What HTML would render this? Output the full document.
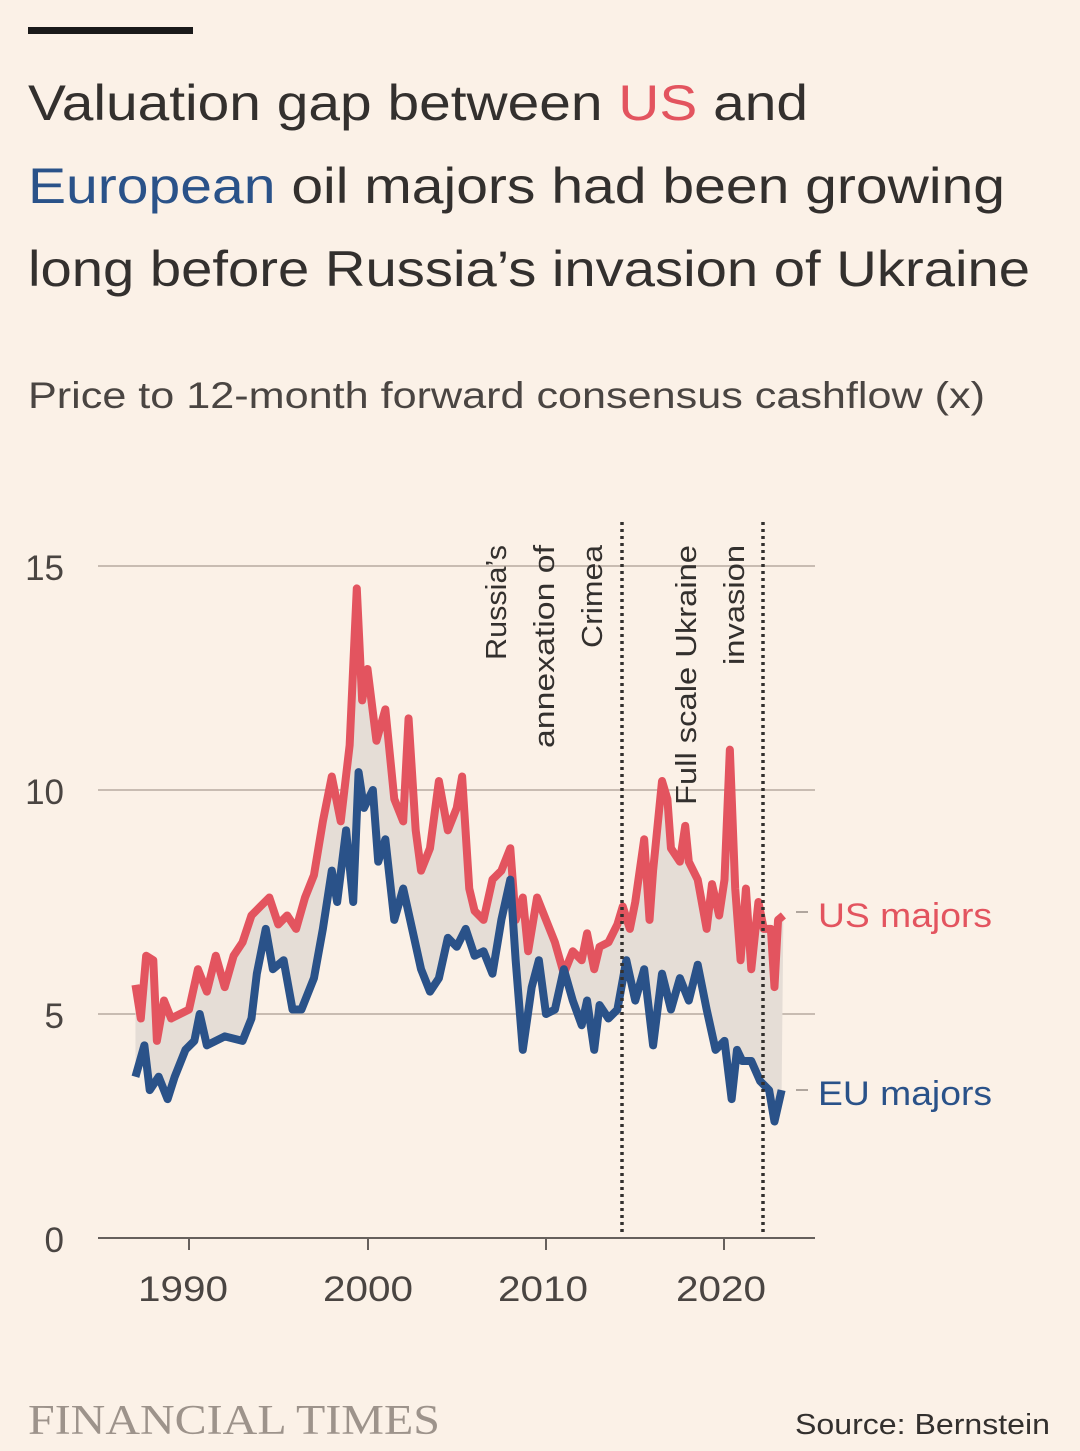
<!DOCTYPE html>
<html><head><meta charset="utf-8"><style>
html,body{margin:0;padding:0;background:#fbf1e7;}
body{width:1080px;height:1451px;position:relative;overflow:hidden;font-family:"Liberation Sans",sans-serif;color:#33302e;}
</style></head><body>
<svg width="1080" height="1451" viewBox="0 0 1080 1451" xmlns="http://www.w3.org/2000/svg" style="position:absolute;left:0;top:0">
<rect x="28" y="27" width="165" height="7" fill="#1a1a1a"/>
<g font-family="Liberation Sans, sans-serif" font-size="50" fill="#33302e" lengthAdjust="spacingAndGlyphs">
<text x="28" y="120" textLength="780" lengthAdjust="spacingAndGlyphs">Valuation gap between <tspan fill="#e3545f">US</tspan> and</text>
<text x="28" y="203" textLength="977" lengthAdjust="spacingAndGlyphs"><tspan fill="#2a5289">European</tspan> oil majors had been growing</text>
<text x="28" y="286" textLength="1002" lengthAdjust="spacingAndGlyphs">long before Russia’s invasion of Ukraine</text>
</g>
<text x="28" y="408" font-size="37" fill="#4a4542" textLength="957" lengthAdjust="spacingAndGlyphs">Price to 12-month forward consensus cashflow (x)</text>
<g stroke="#c8bcb2" stroke-width="2">
<line x1="98" x2="815" y1="566" y2="566"/>
<line x1="98" x2="815" y1="790" y2="790"/>
<line x1="98" x2="815" y1="1014" y2="1014"/>
</g>
<g font-size="35" fill="#4a4542" text-anchor="end">
<text x="64" y="580">15</text><text x="64" y="804">10</text><text x="64" y="1028">5</text><text x="64" y="1252">0</text>
</g>
<g transform="translate(189 1238) scale(17.85 -44.8)">
<polygon fill="#e5ddd6" points="-3,5.65 -2.7,4.9 -2.4,6.3 -2,6.2 -1.8,4.4 -1.4,5.3 -1,4.9 0,5.1 0.5,6 1,5.5 1.5,6.3 2,5.6 2.5,6.3 3,6.6 3.5,7.2 4,7.4 4.5,7.6 5,7 5.5,7.2 6,6.9 6.5,7.6 7,8.1 7.5,9.3 8,10.3 8.5,9.3 9,11 9.4,14.5 9.7,12 10,12.7 10.5,11.1 11,11.8 11.5,9.8 12,9.3 12.3,11.6 12.7,9.1 13,8.2 13.5,8.7 14,10.2 14.5,9.1 15,9.6 15.3,10.3 15.7,7.8 16,7.3 16.5,7.1 17,8 17.5,8.2 18,8.7 18.3,7.1 18.7,7.6 19,6.4 19.5,7.6 20,7.1 20.5,6.6 21,5.9 21.5,6.4 22,6.2 22.3,6.8 22.7,6 23,6.5 23.5,6.6 24,7 24.3,7.4 24.7,6.9 25,7.5 25.5,8.9 25.8,7.1 26,8.2 26.5,10.2 26.8,9.8 27,8.7 27.5,8.4 27.8,9.2 28,8.4 28.5,8 29,6.9 29.3,7.9 29.7,7.2 30,8 30.3,10.9 30.6,7.8 30.9,6.2 31.2,7.8 31.5,6 31.9,7.5 32.2,6.9 32.6,6.9 32.8,5.6 33,7.1 33.3,7.2 33.2,3.3 32.8,2.6 32.5,3.3 32,3.5 31.5,3.95 31,3.95 30.7,4.2 30.4,3.1 30,4.4 29.5,4.2 29,5.1 28.5,6.1 28,5.3 27.5,5.8 27,5.1 26.5,5.9 26,4.3 25.5,6 25,5.3 24.5,6.2 24,5.1 23.5,4.9 23,5.2 22.7,4.2 22.3,5.3 22,4.75 21.5,5.3 21,6 20.5,5.1 20,5 19.6,6.2 19.2,5.6 18.7,4.2 18.3,6.2 18,8 17.5,7.1 17,5.9 16.5,6.4 16,6.3 15.5,6.9 15,6.5 14.5,6.7 14,5.8 13.5,5.5 13,6 12.5,6.9 12,7.8 11.5,7.1 11,8.9 10.6,8.4 10.3,10 9.8,9.6 9.5,10.4 9.2,7.5 8.8,9.1 8.3,7.5 8,8.2 7.5,6.9 7,5.8 6.3,5.1 5.8,5.1 5.3,6.2 4.7,6 4.3,6.9 3.8,5.9 3.5,4.9 3,4.4 2,4.5 1,4.3 0.6,5 0.3,4.4 -0.2,4.2 -0.8,3.6 -1.2,3.1 -1.7,3.6 -2.2,3.3 -2.5,4.3 -3,3.6"/>
<polyline fill="none" stroke="#e3545f" stroke-width="8" vector-effect="non-scaling-stroke" stroke-linejoin="round" points="-3,5.65 -2.7,4.9 -2.4,6.3 -2,6.2 -1.8,4.4 -1.4,5.3 -1,4.9 0,5.1 0.5,6 1,5.5 1.5,6.3 2,5.6 2.5,6.3 3,6.6 3.5,7.2 4,7.4 4.5,7.6 5,7 5.5,7.2 6,6.9 6.5,7.6 7,8.1 7.5,9.3 8,10.3 8.5,9.3 9,11 9.4,14.5 9.7,12 10,12.7 10.5,11.1 11,11.8 11.5,9.8 12,9.3 12.3,11.6 12.7,9.1 13,8.2 13.5,8.7 14,10.2 14.5,9.1 15,9.6 15.3,10.3 15.7,7.8 16,7.3 16.5,7.1 17,8 17.5,8.2 18,8.7 18.3,7.1 18.7,7.6 19,6.4 19.5,7.6 20,7.1 20.5,6.6 21,5.9 21.5,6.4 22,6.2 22.3,6.8 22.7,6 23,6.5 23.5,6.6 24,7 24.3,7.4 24.7,6.9 25,7.5 25.5,8.9 25.8,7.1 26,8.2 26.5,10.2 26.8,9.8 27,8.7 27.5,8.4 27.8,9.2 28,8.4 28.5,8 29,6.9 29.3,7.9 29.7,7.2 30,8 30.3,10.9 30.6,7.8 30.9,6.2 31.2,7.8 31.5,6 31.9,7.5 32.2,6.9 32.6,6.9 32.8,5.6 33,7.1 33.3,7.2"/>
<polyline fill="none" stroke="#2a5289" stroke-width="8" vector-effect="non-scaling-stroke" stroke-linejoin="round" points="-3,3.6 -2.5,4.3 -2.2,3.3 -1.7,3.6 -1.2,3.1 -0.8,3.6 -0.2,4.2 0.3,4.4 0.6,5 1,4.3 2,4.5 3,4.4 3.5,4.9 3.8,5.9 4.3,6.9 4.7,6 5.3,6.2 5.8,5.1 6.3,5.1 7,5.8 7.5,6.9 8,8.2 8.3,7.5 8.8,9.1 9.2,7.5 9.5,10.4 9.8,9.6 10.3,10 10.6,8.4 11,8.9 11.5,7.1 12,7.8 12.5,6.9 13,6 13.5,5.5 14,5.8 14.5,6.7 15,6.5 15.5,6.9 16,6.3 16.5,6.4 17,5.9 17.5,7.1 18,8 18.3,6.2 18.7,4.2 19.2,5.6 19.6,6.2 20,5 20.5,5.1 21,6 21.5,5.3 22,4.75 22.3,5.3 22.7,4.2 23,5.2 23.5,4.9 24,5.1 24.5,6.2 25,5.3 25.5,6 26,4.3 26.5,5.9 27,5.1 27.5,5.8 28,5.3 28.5,6.1 29,5.1 29.5,4.2 30,4.4 30.4,3.1 30.7,4.2 31,3.95 31.5,3.95 32,3.5 32.5,3.3 32.8,2.6 33.2,3.3"/>
</g>
<line x1="98" x2="815" y1="1238" y2="1238" stroke="#66605c" stroke-width="2"/>
<g stroke="#66605c" stroke-width="2">
<line x1="189" x2="189" y1="1238" y2="1250"/><line x1="368" x2="368" y1="1238" y2="1250"/><line x1="546" x2="546" y1="1238" y2="1250"/><line x1="724" x2="724" y1="1238" y2="1250"/>
</g>
<g font-size="35" fill="#4a4542" text-anchor="middle">
<text x="183" y="1301" textLength="90" lengthAdjust="spacingAndGlyphs">1990</text><text x="368" y="1301" textLength="90" lengthAdjust="spacingAndGlyphs">2000</text><text x="543" y="1301" textLength="90" lengthAdjust="spacingAndGlyphs">2010</text><text x="721" y="1301" textLength="90" lengthAdjust="spacingAndGlyphs">2020</text>
</g>
<g stroke="#33302e" stroke-width="3.5" stroke-dasharray="3 4">
<line x1="622" x2="622" y1="522" y2="1236"/><line x1="763" x2="763" y1="522" y2="1236"/>
</g>
<g font-size="29" fill="#33302e" text-anchor="end">
<text transform="translate(506 545) rotate(-90)" textLength="115" lengthAdjust="spacingAndGlyphs">Russia’s</text>
<text transform="translate(554 545) rotate(-90)" textLength="203" lengthAdjust="spacingAndGlyphs">annexation of</text>
<text transform="translate(602 545) rotate(-90)" textLength="103" lengthAdjust="spacingAndGlyphs">Crimea</text>
<text transform="translate(696 545) rotate(-90)" textLength="260" lengthAdjust="spacingAndGlyphs">Full scale Ukraine</text>
<text transform="translate(744 545) rotate(-90)" textLength="120" lengthAdjust="spacingAndGlyphs">invasion</text>
</g>
<line x1="796" x2="808" y1="912" y2="912" stroke="#b0a69e" stroke-width="2"/>
<line x1="796" x2="808" y1="1090" y2="1090" stroke="#b0a69e" stroke-width="2"/>
<text x="818" y="927" font-size="34" fill="#e3545f" textLength="174" lengthAdjust="spacingAndGlyphs">US majors</text>
<text x="818" y="1105" font-size="34" fill="#2a5289" textLength="174" lengthAdjust="spacingAndGlyphs">EU majors</text>
<text x="28" y="1434" font-family="Liberation Serif, serif" font-size="42" fill="#9d938b" textLength="412" lengthAdjust="spacingAndGlyphs">FINANCIAL TIMES</text>
<text x="1050" y="1434" font-size="29" fill="#33302e" text-anchor="end" textLength="255" lengthAdjust="spacingAndGlyphs">Source: Bernstein</text>
</svg>
</body></html>
